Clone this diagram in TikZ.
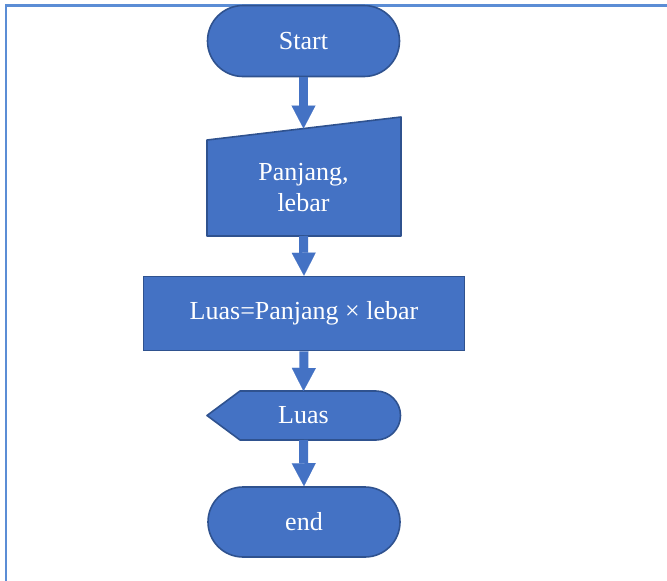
\documentclass[tikz,border=0pt]{standalone}
\usepackage{fontspec}
\setmainfont{Liberation Serif}
\usetikzlibrary{arrows.meta,shapes.misc}

\definecolor{boxfill}{HTML}{4472C4}
\definecolor{boxline}{HTML}{2F528F}
\definecolor{framecol}{RGB}{91,141,213}

\tikzset{
  flowtext/.style={text=white, font=\fontsize{26}{31}\selectfont, align=center},
  terminal/.style={rounded rectangle, draw=boxline, fill=boxfill, line width=1.6pt,
    minimum width=192pt, minimum height=71pt, inner sep=0pt, flowtext},
  procbox/.style={rectangle, draw=boxline, fill=boxfill, line width=1.6pt,
    minimum width=321pt, minimum height=74pt, inner sep=0pt, flowtext},
  shapeline/.style={draw=boxline, fill=boxfill, line width=1.6pt, line join=round},
  flowarrow/.style={draw=boxfill, line width=9pt,
    -{Triangle[width=24pt, length=23pt, line width=0.1pt]}}
}

\begin{document}
\begin{tikzpicture}[x=1pt, y=1pt]
  \useasboundingbox (0,0) rectangle (667,-581);

  % page frame (left and top edges)
  \draw[framecol, line width=2.2pt] (6,-581) -- (6,-5.5) -- (667,-5.5);

  % start terminal
  \node[terminal] (start) at (303.5,-41) {Start};

  % manual input: slanted top edge
  \draw[shapeline] (207,-236) -- (401,-236) -- (401,-117) -- (207,-140) -- cycle;
  \coordinate (inTop) at (303.5,-128.5);
  \coordinate (inBot) at (303.5,-236);
  \node[flowtext] (input) at (303.5,-188) {Panjang,\\lebar};

  % process
  \node[procbox] (proc) at (304,-313.5) {Luas=Panjang \texttimes{} lebar};

  % display
  \draw[shapeline] (207,-415.5) -- (240,-391) -- (376,-391)
    arc[start angle=90, end angle=-90, radius=24.5] -- (240,-440) -- cycle;
  \coordinate (outTop) at (303.5,-391);
  \coordinate (outBot) at (303.5,-440);
  \node[flowtext] (output) at (303.5,-415.5) {Luas};

  % end terminal
  \node[terminal, minimum height=70pt] (stop) at (304,-522) {end};

  % connectors
  \draw[flowarrow] (start.south) -- (inTop);
  \draw[flowarrow] (inBot) -- (proc.north);
  \draw[flowarrow] (proc.south) -- (outTop);
  \draw[flowarrow] (outBot) -- (stop.north);
\end{tikzpicture}
\end{document}
